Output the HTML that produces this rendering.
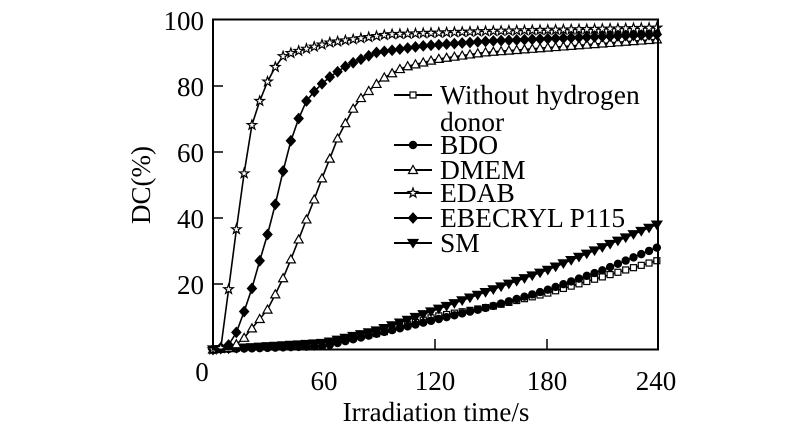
<!DOCTYPE html>
<html><head><meta charset="utf-8"><style>
html,body{margin:0;padding:0;background:#fff;}
svg{display:block;font-family:"Liberation Serif",serif;}
</style></head><body>
<svg id="s" width="800" height="434" viewBox="0 0 800 434" xmlns="http://www.w3.org/2000/svg">
<rect width="800" height="434" fill="#fff"/>
<g id="data"></g>
<rect x="213" y="19.5" width="445" height="330" fill="none" stroke="#000" stroke-width="2"/>
<g stroke="#000" stroke-width="1.5">
<line x1="213" y1="284" x2="223" y2="284"/><line x1="213" y1="218" x2="223" y2="218"/>
<line x1="213" y1="152" x2="223" y2="152"/><line x1="213" y1="86" x2="223" y2="86"/>
<line x1="324" y1="349" x2="324" y2="339"/><line x1="435" y1="349" x2="435" y2="339"/>
<line x1="547" y1="349" x2="547" y2="339"/>
</g>
<g font-size="27" text-anchor="end">
<text x="204" y="30">100</text><text x="204" y="96">80</text><text x="204" y="162">60</text>
<text x="204" y="228">40</text><text x="204" y="294">20</text>
</g>
<g font-size="27" text-anchor="middle">
<text x="202" y="381">0</text><text x="324" y="390">60</text><text x="435" y="390">120</text>
<text x="547" y="390">180</text><text x="656" y="390">240</text>
<text x="436" y="421">Irradiation time/s</text>
<text transform="translate(150,185) rotate(-90)">DC(%)</text>
</g>
<g font-size="27.5">
<text x="440" y="104">Without hydrogen</text><text x="440" y="131">donor</text>
<text x="440" y="154">BDO</text><text x="440" y="179">DMEM</text><text x="440" y="202">EDAB</text>
<text x="440" y="227">EBECRYL P115</text><text x="440" y="252">SM</text>
</g>
<g id="leg" stroke="#000" stroke-width="2"></g>
</svg>
<script>
var ns="http://www.w3.org/2000/svg";
function X(t){return 213+t*1.854}function Y(v){return 349.5-v*3.3}
function interp(k,t){for(var i=0;i<k.length-1;i++){if(t<=k[i+1][0]){var a=k[i],b=k[i+1];var f=(t-a[0])/(b[0]-a[0]);return a[1]+f*(b[1]-a[1]);}}return k[k.length-1][1];}
function marker(g,type,x,y){var e;
 if(type=="sq"){e=document.createElementNS(ns,"rect");e.setAttribute("x",x-3);e.setAttribute("y",y-3);e.setAttribute("width",6);e.setAttribute("height",6);e.setAttribute("fill","#fff");}
 else if(type=="ci"){e=document.createElementNS(ns,"circle");e.setAttribute("cx",x);e.setAttribute("cy",y);e.setAttribute("r",3.6);e.setAttribute("fill","#000");}
 else if(type=="tr"){e=document.createElementNS(ns,"polygon");e.setAttribute("points",(x-4.5)+","+(y+3.5)+" "+(x+4.5)+","+(y+3.5)+" "+x+","+(y-4.5));e.setAttribute("fill","#fff");}
 else if(type=="st"){var p=[];for(var i=0;i<10;i++){var r=i%2?2:5,a=-Math.PI/2+i*Math.PI/5;p.push((x+r*Math.cos(a)).toFixed(1)+","+(y+r*Math.sin(a)).toFixed(1));}e=document.createElementNS(ns,"polygon");e.setAttribute("points",p.join(" "));e.setAttribute("fill","#fff");}
 else if(type=="di"){e=document.createElementNS(ns,"polygon");e.setAttribute("points",x+","+(y-5)+" "+(x+4.5)+","+y+" "+x+","+(y+5)+" "+(x-4.5)+","+y);e.setAttribute("fill","#000");}
 else if(type=="it"){e=document.createElementNS(ns,"polygon");e.setAttribute("points",(x-5)+","+(y-3.5)+" "+(x+5)+","+(y-3.5)+" "+x+","+(y+4.5));e.setAttribute("fill","#000");}
 e.setAttribute("stroke","#000");e.setAttribute("stroke-width","1.2");g.appendChild(e);}
var S=[
["sq",[[0,0],[60,2],[90,5],[120,10],[150,13],[180,17],[210,22],[240,27]]],
["ci",[[0,0],[60,1],[90,5],[120,9],[150,13],[180,18],[210,24],[240,31]]],
["it",[[0,0],[60,2],[90,6],[120,12],[150,18],[180,24],[210,31],[240,38]]],
["tr",[[0,0],[10,0.5],[16,3],[30,12.5],[39,23],[47,34.5],[56,47.5],[60.5,54.5],[65,60.5],[68.5,66],[73,70],[76.5,74],[81,77],[85.5,79],[91,82],[102.5,85.5],[121,88],[146,90],[240,94]]],
["di",[[0,0],[8,1],[13.5,6],[21,18.5],[25,26.5],[30,36],[34.5,46],[39,57],[42.6,64.5],[47.5,72],[51,76],[56,79],[61.5,82],[72,86],[88,90],[113,92],[150,93.5],[240,95.5]]],
["st",[[0,0],[5,0.5],[8,16.5],[12,34],[16.7,53],[21,68],[25,75],[30,82],[34,86],[38,89],[43,90],[63,93],[95,95.5],[150,96.5],[240,97.5]]]
];
var g=document.getElementById("data");
S.forEach(function(s){var pts=[];for(var t=0;t<=240.1;t+=4.2){pts.push([X(t),Y(interp(s[1],t))]);}
 var pl=document.createElementNS(ns,"polyline");pl.setAttribute("points",pts.map(function(p){return p[0].toFixed(1)+","+p[1].toFixed(1)}).join(" "));
 pl.setAttribute("fill","none");pl.setAttribute("stroke","#000");pl.setAttribute("stroke-width","1.6");g.appendChild(pl);
 pts.forEach(function(p){marker(g,s[0],p[0],p[1]);});});
var L=[["sq",95],["ci",145],["tr",170],["st",193],["di",218],["it",243]];
var lg=document.getElementById("leg");
L.forEach(function(l){var ln=document.createElementNS(ns,"line");ln.setAttribute("x1",394);ln.setAttribute("x2",432);ln.setAttribute("y1",l[1]);ln.setAttribute("y2",l[1]);lg.appendChild(ln);marker(lg,l[0],413,l[1]);});
</script>
</body></html>
